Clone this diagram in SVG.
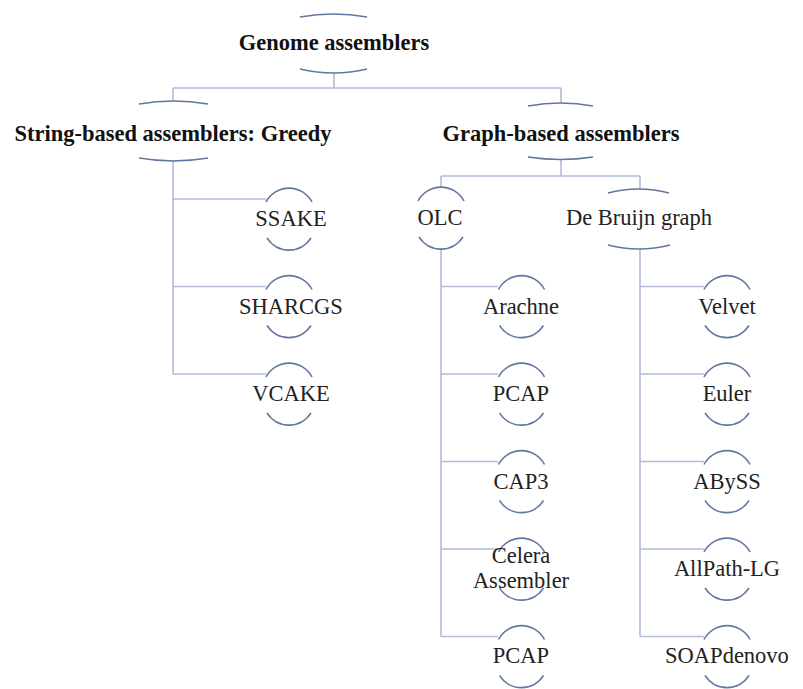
<svg xmlns="http://www.w3.org/2000/svg" xmlns:xlink="http://www.w3.org/1999/xlink" width="803" height="689" viewBox="0 0 803 689">
  <style>
    .link { fill: none; stroke: #b3bbdb; stroke-width: 1.6; }
    .arc { fill: none; stroke: #62779f; stroke-width: 1.6; }
    text { font-family: 'Liberation Serif', 'DejaVu Serif', serif; font-size: 22.5px; text-anchor: middle; }
    .title { font-weight: bold; fill: #111; }
    .label { fill: #222; }
  </style>
  <defs>
    <!-- leaf ring: origin = centre x, branch line y -->
    <g id="ring">
      <path class="arc" d="M-23,3 A26,26 0 0 1 23,3"/>
      <path class="arc" d="M-22,39 A26,26 0 0 0 22,39"/>
    </g>
  </defs>
  <rect width="803" height="689" fill="#fff"/>

  <g id="connectors">
    <path class="link" d="M334,73 V88 M173,88 H561 M173,88 V101 M561,88 V103"/>
    <path class="link" d="M173,161 V374 M173,199 H266 M173,286.5 H266 M173,374 H266"/>
    <path class="link" d="M561,160 V176 M441,176 H640 M441,176 V187 M640,176 V189"/>
    <path class="link" d="M441,249 V636.5 M441,286.5 H498 M441,374 H498 M441,461.5 H498 M441,549 H498 M441,636.5 H498"/>
    <path class="link" d="M640,249 V636.5 M640,286.5 H704 M640,374 H704 M640,461.5 H704 M640,549 H704 M640,636.5 H704"/>
  </g>

  <g font-family="Liberation Serif, DejaVu Serif, serif">
  <g id="genome">
    <path class="arc" d="M300,17 Q333.5,11 367,17"/>
    <path class="arc" d="M300,69 Q333.5,77 367,69"/>
    <text class="title" x="334" y="50">Genome assemblers</text>
  </g>
  <g id="string-based">
    <path class="arc" d="M139,104 Q173.5,98 208,104"/>
    <path class="arc" d="M139,158 Q173.5,164 208,158"/>
    <text class="title" x="173" y="141">String-based assemblers: Greedy</text>
  </g>
  <g id="graph-based">
    <path class="arc" d="M528,106 Q560.5,100 593,106"/>
    <path class="arc" d="M528,157 Q560.5,162 593,157"/>
    <text class="title" x="561" y="141">Graph-based assemblers</text>
  </g>
  <g id="olc">
    <use xlink:href="#ring" x="441" y="198"/>
    <text class="label" x="440" y="225">OLC</text>
  </g>
  <g id="de-bruijn">
    <path class="arc" d="M608,193 Q638.5,185 669,193"/>
    <path class="arc" d="M608,245 Q639,253 670,245"/>
    <text class="label" x="639" y="225">De Bruijn graph</text>
  </g>

  <g id="ssake"><use xlink:href="#ring" x="289" y="199"/><text class="label" x="291" y="226">SSAKE</text></g>
  <g id="sharcgs"><use xlink:href="#ring" x="289" y="286.5"/><text class="label" x="291" y="313.5">SHARCGS</text></g>
  <g id="vcake"><use xlink:href="#ring" x="289" y="374"/><text class="label" x="291" y="401">VCAKE</text></g>

  <g id="arachne"><use xlink:href="#ring" x="521.5" y="286.5"/><text class="label" x="521" y="313.5">Arachne</text></g>
  <g id="pcap-1"><use xlink:href="#ring" x="521.5" y="374"/><text class="label" x="521" y="401">PCAP</text></g>
  <g id="cap3"><use xlink:href="#ring" x="521.5" y="461.5"/><text class="label" x="521" y="488.5">CAP3</text></g>
  <g id="celera"><use xlink:href="#ring" x="521.5" y="549"/><text class="label" x="521" y="563">Celera</text><text class="label" x="521" y="588">Assembler</text></g>
  <g id="pcap-2"><use xlink:href="#ring" x="521.5" y="636.5"/><text class="label" x="521" y="663">PCAP</text></g>

  <g id="velvet"><use xlink:href="#ring" x="727" y="286.5"/><text class="label" x="727" y="313.5">Velvet</text></g>
  <g id="euler"><use xlink:href="#ring" x="727" y="374"/><text class="label" x="727" y="401">Euler</text></g>
  <g id="abyss"><use xlink:href="#ring" x="727" y="461.5"/><text class="label" x="727" y="488.5">ABySS</text></g>
  <g id="allpath"><use xlink:href="#ring" x="727" y="549"/><text class="label" x="727" y="576">AllPath-LG</text></g>
  <g id="soapdenovo"><use xlink:href="#ring" x="727" y="636.5"/><text class="label" x="727" y="663">SOAPdenovo</text></g>
  </g>
</svg>
